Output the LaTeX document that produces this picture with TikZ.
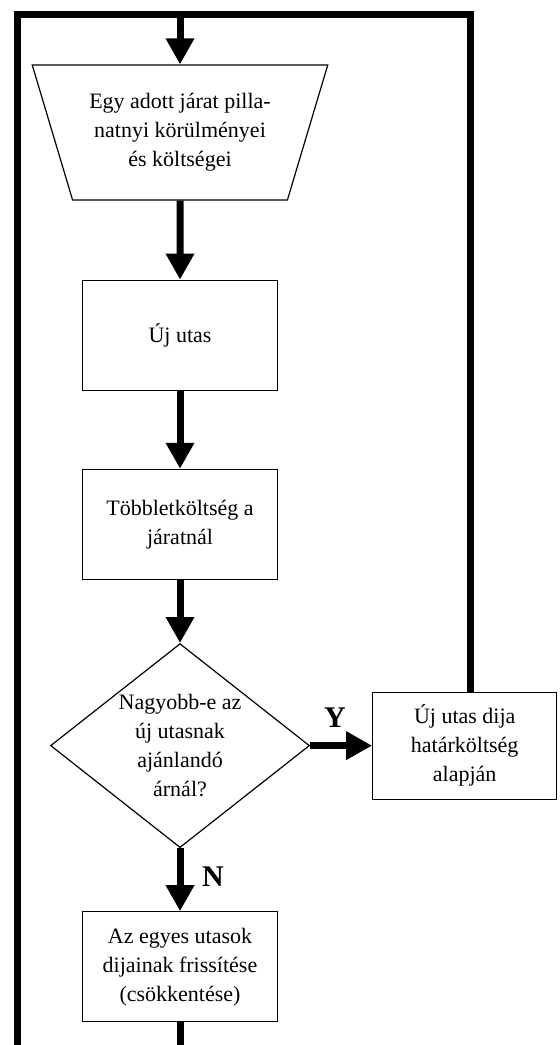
\documentclass[tikz,border=0pt]{standalone}
\usepackage{fontspec}
\setmainfont{Liberation Serif}
\usepackage{tikz}
\usetikzlibrary{shapes.geometric, positioning, arrows.meta, calc}
\tikzset{
  process/.style={rectangle, minimum width=97.5pt, minimum height=55pt, align=center, draw=black, line width=0.6pt, font=\fontsize{11}{14.5}\selectfont},
  io/.style={trapezium, trapezium left angle=113, trapezium right angle=113, trapezium stretches=true, inner sep=1pt, minimum width=148pt, minimum height=67.5pt, align=center, draw=black, line width=0.6pt, font=\fontsize{11}{14.5}\selectfont},
  decision/.style={diamond, aspect=1.27, inner sep=0pt, minimum width=129.5pt, minimum height=102pt, align=center, draw=black, line width=0.6pt, font=\fontsize{11}{14.5}\selectfont},
  arrow/.style={line width=3.5pt, -{Triangle[width=13.5pt,length=13pt]}},
  frame/.style={line width=3.5pt},
  yn/.style={font=\fontsize{15}{18}\selectfont\bfseries}
}
\begin{document}
\begin{tikzpicture}
            \useasboundingbox (0,0) rectangle (280pt,-522.5pt);

            % --- Fo oszlop ---
            \node (inp) [io] at (90pt,-66.25pt) {Egy adott járat pilla-\\natnyi körülményei\\és költségei};
            \node (newp) [process, below=39.5pt of inp] {Új utas};
            \node (cost) [process, below=39pt of newp] {Többletköltség a\\járatnál};
            \node (dec) [decision, below=31.5pt of cost] {Nagyobb-e az\\új utasnak\\ajánlandó\\árnál?};
            \node (upd) [process, below=31.5pt of dec] {Az egyes utasok\\dijainak frissítése\\(csökkentése)};
            \node (fee) [process, right=31pt of dec, minimum width=92pt, minimum height=53.5pt] {Új utas dija\\határköltség\\alapján};

            \draw [arrow] (inp) -- (newp);
            \draw [arrow] (newp) -- (cost);
            \draw [arrow] (cost) -- (dec);
            \draw [arrow] (dec) -- node[yn, above=4pt, pos=0.4] {Y} (fee);
            \draw [arrow] (dec) -- node[yn, right=6pt, pos=0.45] {N} (upd);

            % --- Visszacsatolas ---
            \coordinate (tl) at (8.5pt,-7pt);
            \coordinate (bl) at (8.5pt,-535pt);
            \draw [arrow] (upd.south) |- (bl) -- (tl) -| (inp.north);
            \draw [frame] ($(fee.north)+(3pt,0)$) |- (tl);

\end{tikzpicture}
\end{document}
